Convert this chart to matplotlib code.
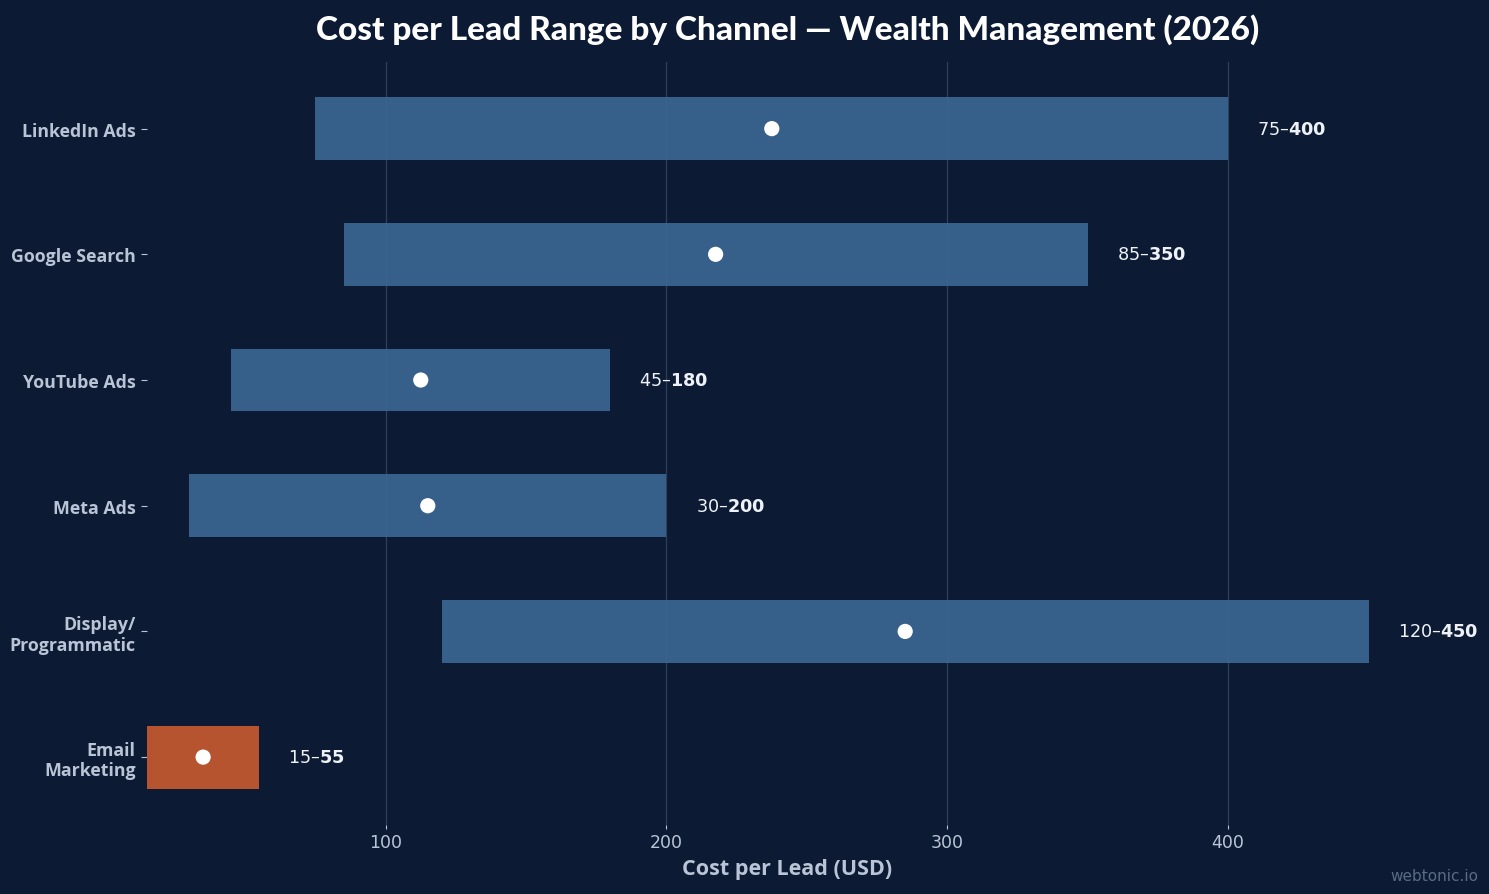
import numpy as np
import matplotlib.pyplot as plt

# data, bottom to top
channels = ['Email\nMarketing', 'Display/\nProgrammatic', 'Meta Ads', 'YouTube Ads', 'Google Search', 'LinkedIn Ads']
low = [15, 120, 30, 45, 85, 75]
high = [55, 450, 200, 180, 350, 400]
mid = [35, 285, 115, 112.5, 217.5, 237.5]
bar_colors = [(0.71, 0.33, 0.18, 1.0)] + [(0.227, 0.396, 0.573, 0.93)] * 5
xticks = [100, 200, 300, 400]

bg = '#0c1b33'
label_col = '#b9c5d6'

fig = plt.figure(figsize=(14.89, 8.95), dpi=100, facecolor=bg)
ax = fig.add_axes([0.0987, 0.0771, 0.86, 0.8525], facecolor=bg)

y = np.arange(len(channels))
widths = [h - l for l, h in zip(low, high)]
ax.barh(y, widths, left=low, height=0.5, color=bar_colors, zorder=2)
ax.scatter(mid, y, s=120, color='white', zorder=3, edgecolors='none')

for yi, l, h in zip(y, low, high):
  ax.annotate(f'{l}–$\\mathbf{{{h}}}$', xy=(h, yi), xytext=(21, 0), textcoords='offset points',
              va='center', ha='left', color='#eef2f7', fontsize=12.7, annotation_clip=False)

ax.set_xlim(15, 471)
ax.set_ylim(-0.54, 5.53)
ax.set_xticks(xticks)
ax.set_yticks(y)
ax.set_yticklabels(channels, fontfamily='Open Sans', fontweight='bold', fontsize=12.8,
                   color=label_col, linespacing=1.15)
ax.tick_params(axis='x', colors=label_col, labelsize=12.5, length=3, width=0.8, pad=3)
ax.tick_params(axis='y', colors=label_col, length=4, width=0.8, pad=4)
ax.grid(axis='x', color='#2f405a', linewidth=0.9, zorder=0)
ax.set_axisbelow(True)
for s in ax.spines.values():
  s.set_visible(False)

ax.set_xlabel('Cost per Lead (USD)', fontfamily='Open Sans', fontweight='bold', fontsize=15.5,
              color=label_col, labelpad=5)
ax.set_title('Cost per Lead Range by Channel — Wealth Management (2026)', fontfamily='Lato',
             fontweight='black', fontsize=24, color='white', pad=17)
fig.text(0.993, 0.012, 'webtonic.io', ha='right', va='bottom', color='#5b6b84', fontsize=11)

fig.savefig('out.png', dpi=100, facecolor=bg)
